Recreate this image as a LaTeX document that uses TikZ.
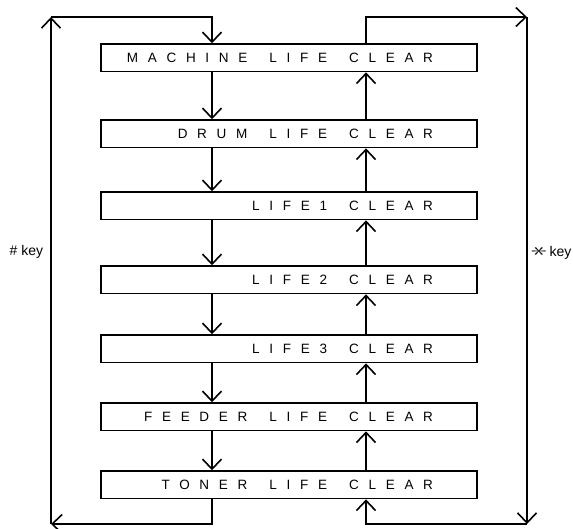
\documentclass[tikz,border=0pt]{standalone}
\usepackage{fontspec}
\setmainfont{Liberation Sans}
\newfontfamily\spacedfont[LetterSpace=72]{Liberation Sans}
\usetikzlibrary{arrows.meta}
\newcommand{\wsp}{\hspace*{22pt}}

\begin{document}
\begin{tikzpicture}[x=1pt, y=-1pt, line width=1.6pt,
    box/.style={draw, minimum width=376pt, minimum height=27.5pt, inner sep=0pt},
    boxtext/.style={anchor=east, inner sep=0pt, font=\spacedfont\fontsize{13.5}{15}\selectfont},
    arrow/.style={-{Straight Barb[length=10pt, width=19pt]}},
    keylabel/.style={font=\fontsize{14}{16}\selectfont, inner sep=0pt}
]
\useasboundingbox (0,0) rectangle (573,528);

% --- clear modes ---
\node[box] (machine) at (289, 57.8) {};
\node[box] (drum)    at (289, 133.8) {};
\node[box] (lifeone) at (289, 205.8) {};
\node[box] (lifetwo) at (289, 279.8) {};
\node[box] (lifethree) at (289, 348.8) {};
\node[box] (feeder)  at (289, 416.8) {};
\node[box] (toner)   at (289, 484.8) {};

\node[boxtext] (machinetxt) at ([xshift=-44pt]machine.east) {MACHINE\wsp{}LIFE\wsp{}CLEAR};
\node[boxtext] (drumtxt) at ([xshift=-44pt]drum.east) {DRUM\wsp{}LIFE\wsp{}CLEAR};
\node[boxtext] (lifeonetxt) at ([xshift=-44pt]lifeone.east) {LIFE1\wsp{}CLEAR};
\node[boxtext] (lifetwotxt) at ([xshift=-44pt]lifetwo.east) {LIFE2\wsp{}CLEAR};
\node[boxtext] (lifethreetxt) at ([xshift=-44pt]lifethree.east) {LIFE3\wsp{}CLEAR};
\node[boxtext] (feedertxt) at ([xshift=-44pt]feeder.east) {FEEDER\wsp{}LIFE\wsp{}CLEAR};
\node[boxtext] (tonertxt) at ([xshift=-44pt]toner.east) {TONER\wsp{}LIFE\wsp{}CLEAR};

% --- step down / step up ---
\foreach \a/\b in {machine/drum, drum/lifeone, lifeone/lifetwo, lifetwo/lifethree,
                   lifethree/feeder, feeder/toner} {
  \draw[arrow] ([xshift=-77pt]\a.south) -- ([xshift=-77pt]\b.north);
  \draw[arrow] ([xshift=77pt]\b.north) -- ([xshift=77pt]\a.south);
}

% --- wrap-around loops ---
\coordinate (topleft) at (51, 17);
\coordinate (botleft) at (51, 524);
\coordinate (topright) at (527, 17);
\coordinate (botright) at (527, 524);

\draw[arrow] ([xshift=-77pt]toner.south) |- (botleft);
\draw[arrow] (botleft) -- (topleft);
\draw[arrow] (topleft) -| ([xshift=-77pt]machine.north);

\draw[arrow] ([xshift=77pt]machine.north) |- (topright);
\draw[arrow] (topright) -- (botright);
\draw[arrow] (botright) -| ([xshift=77pt]toner.south);

\node[keylabel, anchor=east] (hashkey) at (44, 252) {\# key};
\node[keylabel, anchor=west] (starkey) at (531, 253)
    {\scalebox{2.3}[1.4]{\rotatebox[origin=c]{90}{$\ast$}}\,key};

\end{tikzpicture}
\end{document}
